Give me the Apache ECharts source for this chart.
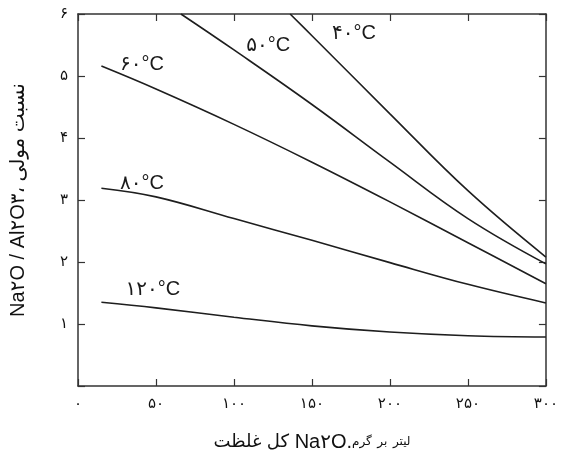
<!DOCTYPE html>
<html>
<head>
<meta charset="utf-8">
<script src="https://cdn.jsdelivr.net/npm/echarts@6/dist/echarts.min.js"></script>
<style>
  html, body { margin: 0; padding: 0; background: #fff; }
  #chart { width: 561px; height: 457px; }
</style>
</head>
<body>
<div id="chart"></div>
<script>
// غلظت Na2O (گرم بر لیتر)
const conc = [15, 50, 100, 150, 200, 250, 300];
const conc40 = [136, 150, 200, 250, 300];
const conc50 = [66, 100, 150, 200, 250, 300];

// نسبت مولی برای هر دما
const ratio40 = [6.0, 5.65, 4.39, 3.15, 2.08];
const ratio50 = [6.0, 5.42, 4.54, 3.61, 2.70, 1.97];
const ratio60 = [5.16, 4.79, 4.22, 3.61, 2.97, 2.31, 1.65];
const ratio80 = [3.19, 3.05, 2.70, 2.35, 1.99, 1.64, 1.34];
const ratio120 = [1.35, 1.26, 1.11, 0.97, 0.87, 0.81, 0.79];

const tempNames = ["۴۰°C", "۵۰°C", "۶۰°C", "۸۰°C", "۱۲۰°C"];
const xTickLabels = ["۰", "۵۰", "۱۰۰", "۱۵۰", "۲۰۰", "۲۵۰", "۳۰۰"];
const yTickLabels = ["", "۱", "۲", "۳", "۴", "۵", "۶"];

const font = "'Liberation Sans', 'DejaVu Sans', sans-serif";
const pair = (xs, ys) => xs.map((x, i) => [x, ys[i]]);

const chart = echarts.init(document.getElementById("chart"));

// برچسب دما کنار هر منحنی
function curve(name, data, labelAt) {
  return {
    type: "line",
    name: name,
    data: data,
    smooth: 0.4,
    symbol: "none",
    lineStyle: { color: "#1e1e1e", width: 1.6 },
    markPoint: {
      symbol: "circle",
      symbolSize: 0,
      data: [{ coord: labelAt, value: name }],
      label: {
        show: true,
        formatter: name,
        color: "#1a1a1a",
        fontFamily: font,
        fontSize: 20,
        position: "inside",
      },
    },
  };
}

function frameAxis(extra) {
  return Object.assign(
    {
      type: "value",
      show: true,
      axisLine: { show: true, onZero: false, lineStyle: { color: "#333", width: 1.5 } },
      axisTick: { show: true, inside: true, length: 7, lineStyle: { color: "#333", width: 1.2 } },
      splitLine: { show: false },
    },
    extra
  );
}

const option = {
  backgroundColor: "#fff",
  animation: false,
  grid: { left: 76, right: 13, top: 14, bottom: 71 },
  xAxis: [
    frameAxis({
      min: 0,
      max: 300,
      interval: 50,
      axisLabel: {
        color: "#111",
        fontSize: 15,
        fontFamily: font,
        margin: 10,
        formatter: (v) => xTickLabels[v / 50],
      },
      // هر واژه جدا تا ترتیب چپ به راست مثل شکل بماند
      name: "{p|غلظت} {p|کل} Na۲O.{s|گرم} {s|بر} {s|لیتر}",
      nameLocation: "middle",
      nameGap: 46,
      nameTextStyle: {
        color: "#111",
        fontSize: 20,
        fontFamily: font,
        rich: {
          p: { color: "#111", fontSize: 18, fontFamily: font },
          s: { color: "#111", fontSize: 12, fontFamily: font },
        },
      },
    }),
    frameAxis({
      position: "top",
      min: 0,
      max: 300,
      interval: 50,
      axisLabel: { show: false },
    }),
  ],
  yAxis: [
    frameAxis({
      min: 0,
      max: 6,
      interval: 1,
      axisLabel: {
        color: "#111",
        fontSize: 15,
        fontFamily: font,
        margin: 10,
        formatter: (v) => yTickLabels[v],
      },
      name: "Na۲O / Al۲O۳، نسبت مولی",
      nameLocation: "middle",
      nameGap: 50,
      nameRotate: 90,
      nameTextStyle: { color: "#111", fontSize: 20, fontFamily: font },
    }),
    frameAxis({
      position: "right",
      min: 0,
      max: 6,
      interval: 1,
      axisLabel: { show: false },
    }),
  ],
  series: [
    curve(tempNames[0], pair(conc40, ratio40), [177, 5.69]),
    curve(tempNames[1], pair(conc50, ratio50), [122, 5.5]),
    curve(tempNames[2], pair(conc, ratio60), [41, 5.19]),
    curve(tempNames[3], pair(conc, ratio80), [41, 3.27]),
    curve(tempNames[4], pair(conc, ratio120), [48, 1.55]),
  ],
};

chart.setOption(option);
window.addEventListener("resize", function () {
  chart.resize();
});
</script>
</body>
</html>
